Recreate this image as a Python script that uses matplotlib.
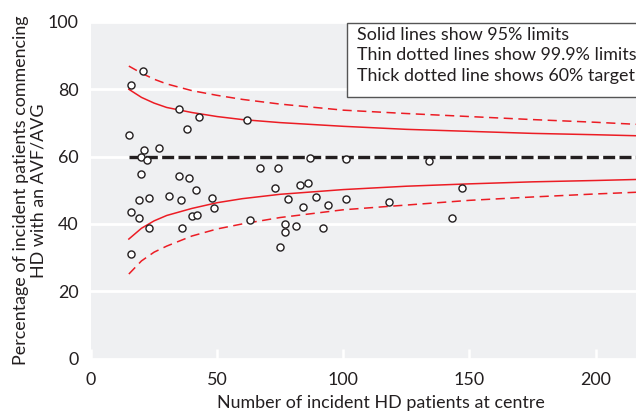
import matplotlib
matplotlib.use("Agg")
import matplotlib.pyplot as plt
from matplotlib.patches import Rectangle

plt.rcParams['font.family'] = ['Lato', 'DejaVu Sans']

# centre size and % starting HD on an AVF/AVG
centre_n = [20.8, 15.9, 34.9, 42.8, 37.9, 14.9, 27.0, 20.9, 19.8, 22.1,
            19.9, 34.9, 38.9, 41.8, 18.9, 23.0, 31.0, 35.8, 16.0, 18.9,
            40.0, 41.9, 23.0, 36.0, 16.0, 62.0, 86.7, 67.0, 74.0, 48.0,
            48.9, 73.0, 82.9, 86.0, 77.9, 84.0, 63.0, 77.0, 81.1, 100.9,
            89.0, 100.9, 94.0, 92.1, 77.0, 75.0, 134.0, 147.1, 118.0, 143.1]
centre_pct = [85.5, 81.2, 74.1, 71.9, 68.2, 66.5, 62.7, 61.9, 59.8, 58.9,
              54.8, 54.1, 53.6, 50.0, 47.1, 47.6, 48.2, 47.0, 43.5, 41.9,
              42.3, 42.7, 38.9, 38.7, 31.0, 70.8, 59.7, 56.6, 56.6, 47.8,
              44.7, 50.6, 51.6, 52.2, 47.3, 45.1, 41.1, 40.0, 39.4, 59.2,
              48.1, 47.3, 45.6, 38.9, 37.5, 33.1, 58.7, 50.7, 46.4, 41.7]

# funnel limits read at these centre sizes
limit_n = [15, 20, 25, 30, 40, 50, 60, 75, 100, 125, 150, 175, 200, 216]
upper95 = [80.0, 77.6, 75.9, 74.6, 73.1, 71.9, 71.0, 70.1, 69.0, 68.1, 67.5, 66.9, 66.5, 66.2]
lower95 = [35.5, 38.7, 40.9, 42.5, 44.6, 46.3, 47.5, 48.8, 50.2, 51.2, 51.9, 52.5, 52.9, 53.2]
upper999 = [86.9, 84.8, 83.0, 81.6, 79.6, 78.2, 77.0, 75.6, 73.8, 72.8, 71.9, 71.0, 70.2, 69.6]
lower999 = [25.1, 29.0, 31.6, 33.4, 36.4, 38.5, 40.0, 41.9, 44.2, 45.6, 47.0, 48.0, 48.9, 49.4]
target = 60

legend_lines = ["Solid lines show 95% limits",
                "Thin dotted lines show 99.9% limits",
                "Thick dotted line shows 60% target"]

txt = '#231f20'
red = '#ec1c24'
fs = 12.9

fig = plt.figure(figsize=(6.36, 4.17), dpi=100)
ax = fig.add_axes([91/636, 1 - 358.5/417, 545/636, 336.5/417])
ax.set_facecolor('#eff0f2')
for s in ax.spines.values():
    s.set_visible(False)

ax.set_xlim(0, 216)
ax.set_ylim(0, 100)
ax.set_yticks([0, 20, 40, 60, 80, 100])
ax.set_xticks([0, 50, 100, 150, 200])
ax.grid(axis='y', color='white', linewidth=2)
ax.set_axisbelow(True)
ax.tick_params(axis='y', length=0, pad=9, labelsize=fs, labelcolor=txt)
ax.tick_params(axis='x', direction='in', length=7, width=1.8, color='white',
               pad=10, labelsize=fs, labelcolor=txt)

ax.plot(limit_n, upper95, color=red, lw=1.1)
ax.plot(limit_n, lower95, color=red, lw=1.1)
ax.plot(limit_n, upper999, color=red, lw=1.1, dashes=(6, 3.6))
ax.plot(limit_n, lower999, color=red, lw=1.1, dashes=(6, 3.6))
ax.plot([15, 216], [target, target], color='#231f20', lw=2.4, dashes=(3.6, 1.3))

ax.scatter(centre_n, centre_pct, s=26, facecolor='white', edgecolor='#231f20',
           linewidth=1.0, zorder=5)

ax.add_patch(Rectangle((0.469, 0.777), 0.6, 0.221, transform=ax.transAxes,
                       facecolor='white', edgecolor='#555555', lw=1.0,
                       clip_on=False, zorder=6))
for i, line in enumerate(legend_lines):
    ax.text(0.4886, 0.961 - i * 0.0605, line, transform=ax.transAxes,
            fontsize=fs, color=txt, va='center', ha='left', zorder=7)

ax.set_xlabel("Number of incident HD patients at centre", fontsize=fs, color=txt)
ax.xaxis.set_label_coords(0.532, -0.108)
ax.set_ylabel("Percentage of incident patients commencing\nHD with an AVF/AVG",
              fontsize=fs, color=txt, labelpad=1, linespacing=1.1)

fig.savefig("out.png", dpi=100)
